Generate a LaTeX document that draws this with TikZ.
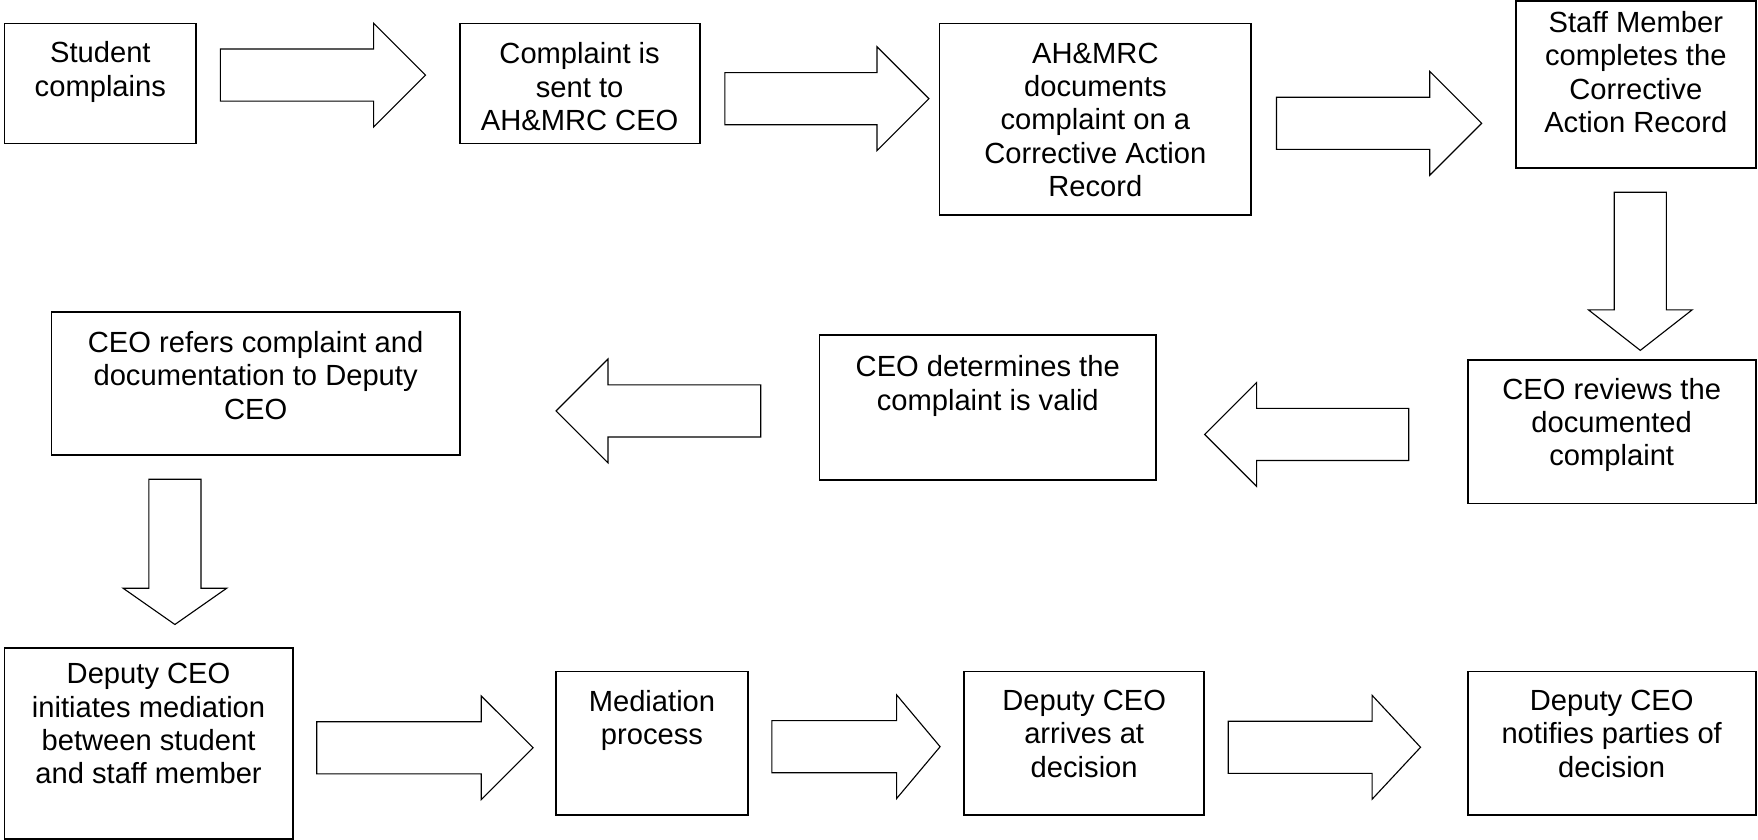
\documentclass[tikz,border=0pt]{standalone}
\usepackage{fontspec}
\setmainfont{Liberation Sans}
\usetikzlibrary{shapes.arrows}
\begin{document}
\begin{tikzpicture}[x=1pt,y=-1pt,
  box/.style={draw, line width=1.6pt, inner sep=0pt},
  txt/.style={align=center, inner sep=0pt, anchor=north, font=\fontsize{26}{29.7}\selectfont},
  blk/.style={single arrow, draw, line width=1pt, inner sep=22.75pt, single arrow head extend=23pt, single arrow tip angle=90, anchor=tail, minimum width=91.5pt}
]
\useasboundingbox (0,0) rectangle (1568,749);
% boxes
\node[box, minimum width=171, minimum height=107] (b1) at (89.5,74.5) {};
\node[box, minimum width=214, minimum height=107] (b2) at (517,74.5) {};
\node[box, minimum width=278, minimum height=171] (b3) at (977,106.5) {};
\node[box, minimum width=214, minimum height=149] (b4) at (1459,75.5) {};
\node[box, minimum width=257, minimum height=128] (b5) at (1437.5,385) {};
\node[box, minimum width=300, minimum height=129] (b6) at (881,363.5) {};
\node[box, minimum width=364, minimum height=128] (b7) at (228,342) {};
\node[box, minimum width=257, minimum height=170] (b8) at (132.5,663) {};
\node[box, minimum width=171, minimum height=128] (b9) at (581.5,663) {};
\node[box, minimum width=214, minimum height=128] (b10) at (967,663) {};
\node[box, minimum width=257, minimum height=128] (b11) at (1437.5,663) {};
% texts
\node[txt] (t1) at (89.5,37) {Student\\complains};
\node[txt] (t2) at (517,38) {Complaint is\\sent to\\AH\&MRC CEO};
\node[txt] (t3) at (977,38) {AH\&MRC\\documents\\complaint on a\\Corrective Action\\Record};
\node[txt] (t4) at (1459,10) {Staff Member\\completes the\\Corrective\\Action Record};
\node[txt] (t5) at (1437.5,337) {CEO reviews the\\documented\\complaint};
\node[txt] (t6) at (881,317) {CEO determines the\\complaint is valid};
\node[txt] (t7) at (228,295.5) {CEO refers complaint and\\documentation to Deputy\\CEO};
\node[txt] (t8) at (132.5,591.5) {Deputy CEO\\initiates mediation\\between student\\and staff member};
\node[txt] (t9) at (581.5,615.5) {Mediation\\process};
\node[txt] (t10) at (967,615.5) {Deputy CEO\\arrives at\\decision};
\node[txt] (t11) at (1437.5,615.5) {Deputy CEO\\notifies parties of\\decision};
% block arrows
\node[blk, minimum height=183] (a1) at (196,67) {};
\node[blk, minimum height=182] (a2) at (646,88) {};
\node[blk, minimum height=183] (a3) at (1138,110) {};
\node[blk, single arrow tip angle=104, rotate=-90, minimum height=141] (d1) at (1463,171) {};
\node[blk, rotate=180, minimum height=182] (l1) at (1257,387.5) {};
\node[blk, rotate=180, minimum height=182.5] (l2) at (679,366.5) {};
\node[blk, single arrow tip angle=110, rotate=-90, minimum height=129.5] (d2) at (156,427) {};
\node[blk, minimum height=193] (a4) at (282,667) {};
\node[blk, single arrow tip angle=100, minimum height=150] (a5) at (688,666) {};
\node[blk, single arrow tip angle=94, minimum height=171.5] (a6) at (1095,666.5) {};
\end{tikzpicture}
\end{document}
